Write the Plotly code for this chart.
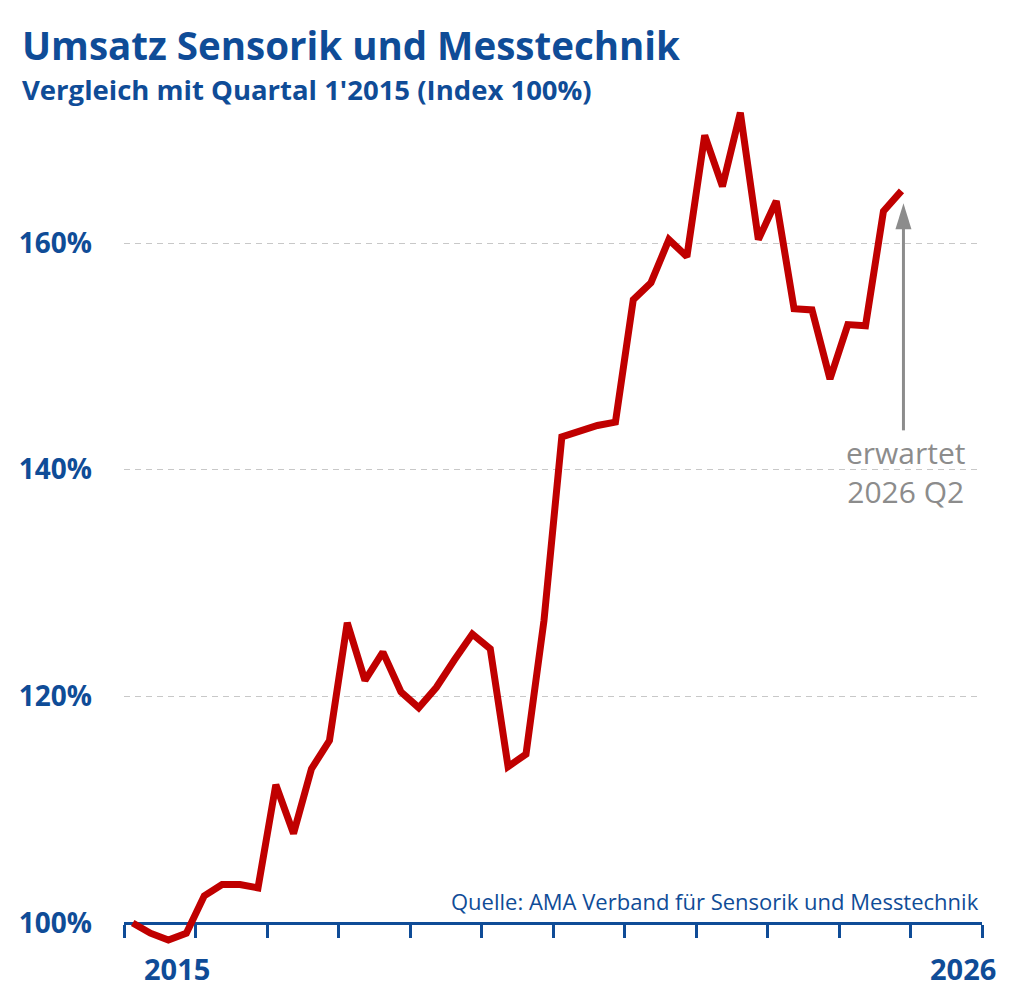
import plotly.graph_objects as go
import pandas as pd

# ---- data ----
years = list(range(2015, 2026))
quarters = [f"{y} Q{q}" for y in years for q in (1, 2, 3, 4)]
index_values = [
    100.0, 99.1, 98.5, 99.1,
    102.4, 103.4, 103.4, 103.1,
    112.2, 107.9, 113.6, 116.1,
    126.5, 121.4, 123.9, 120.4,
    119.0, 120.8, 123.2, 125.5,
    124.2, 113.8, 114.9, 126.7,
    142.9, 143.4, 143.9, 144.2,
    155.0, 156.5, 160.3, 158.8,
    169.5, 165.0, 171.5, 160.3,
    163.7, 154.2, 154.1, 148.0,
    152.8, 152.7, 162.8, 164.6,
]
y_ticks = [100, 120, 140, 160]
y_ticklabels = ["100%", "120%", "140%", "160%"]
year_ticks = list(range(2015, 2028))
year_labels = {"2015": "2015-10-01", "2026": "2026-09-25"}
title = "Umsatz Sensorik und Messtechnik"
subtitle = "Vergleich mit Quartal 1'2015 (Index 100%)"
source = "Quelle: AMA Verband für Sensorik und Messtechnik"
note = "erwartet<br>2026 Q2"

# quarter mid dates
def mid_date(label):
    y, q = label.split(" Q")
    start = pd.Timestamp(int(y), 3 * (int(q) - 1) + 1, 1)
    end = start + pd.offsets.QuarterEnd(0)
    return start + (end - start) / 2

x_dates = [mid_date(q) for q in quarters]

BLUE = "#0f4c97"
RED = "#c00000"
GRAY = "#8c8c8c"

W, H = 1024, 999
ML, MR, MT, MB = 124, 42, 100, 49
y_min, y_max = 97.618, 172.62
axis_pos = (100 - y_min) / (y_max - y_min)

fig = go.Figure()
fig.add_trace(go.Scatter(
    x=x_dates, y=index_values, mode="lines",
    line=dict(color=RED, width=7, shape="linear"),
    hoverinfo="x+y", cliponaxis=False,
))

fig.update_layout(
    width=W, height=H,
    margin=dict(l=ML, r=MR, t=MT, b=MB),
    plot_bgcolor="white", paper_bgcolor="white",
    showlegend=False,
    font=dict(family="Open Sans", color=BLUE),
    xaxis=dict(
        type="date",
        range=["2015-01-01", "2027-01-01"],
        tickvals=[f"{y}-01-01" for y in year_ticks],
        ticktext=["" for _ in year_ticks],
        ticks="outside", ticklen=13, tickwidth=2.5, tickcolor=BLUE,
        showline=True, linewidth=3, linecolor=BLUE,
        showgrid=False, zeroline=False,
        anchor="free", position=axis_pos,
        layer="below traces",
    ),
    yaxis=dict(
        range=[y_min, y_max],
        tickvals=y_ticks, ticktext=y_ticklabels,
        tickfont=dict(family="Open Sans", size=28, color=BLUE, weight="bold"),
        ticklabelstandoff=31,
        showgrid=True, gridcolor="#c8c8c8", gridwidth=1.2, griddash="6px,5px",
        zeroline=False, showline=False, ticks="",
    ),
)

def px_to_paper_x(px):
    return (px - ML) / (W - ML - MR)

def py_to_paper_y(py):
    return (H - MB - py) / (H - MT - MB)

anns = [
    dict(text=title, x=px_to_paper_x(20), y=py_to_paper_y(45), xref="paper", yref="paper",
         xanchor="left", yanchor="middle", showarrow=False,
         font=dict(family="Open Sans", size=38.5, color=BLUE, weight="bold")),
    dict(text=subtitle, x=px_to_paper_x(20), y=py_to_paper_y(89), xref="paper", yref="paper",
         xanchor="left", yanchor="middle", showarrow=False,
         font=dict(family="Open Sans", size=27.5, color=BLUE, weight="bold")),
    dict(text=source, x=px_to_paper_x(981), y=py_to_paper_y(901), xref="paper", yref="paper",
         xanchor="right", yanchor="middle", showarrow=False,
         font=dict(family="Open Sans", size=22, color=BLUE)),
    dict(text=note, x=x_dates[-1], y=py_to_paper_y(472), xref="x", yref="paper",
         xanchor="center", yanchor="middle", showarrow=False, xshift=5,
         font=dict(family="Open Sans", size=30, color=GRAY)),
]
for lab, pos in year_labels.items():
    anns.append(dict(text=lab, x=pos, y=py_to_paper_y(968), xref="x", yref="paper",
                     xanchor="center", yanchor="middle", showarrow=False,
                     font=dict(family="Open Sans", size=29, color=BLUE, weight="bold")))
fig.update_layout(annotations=anns)

# arrow pointing to the last (expected) value
tip = 163.5
fig.add_shape(type="line", xref="x", yref="y", xsizemode="pixel", ysizemode="pixel",
              xanchor=x_dates[-1], yanchor=tip, x0=2, x1=2, y0=-227, y1=-24,
              line=dict(color=GRAY, width=3))
fig.add_shape(type="path", xref="x", yref="y", xsizemode="pixel", ysizemode="pixel",
              xanchor=x_dates[-1], yanchor=tip,
              path="M-6,-26 L10,-26 L2,0 Z",
              fillcolor=GRAY, line=dict(color=GRAY, width=0))

fig.write_html("out.html")
